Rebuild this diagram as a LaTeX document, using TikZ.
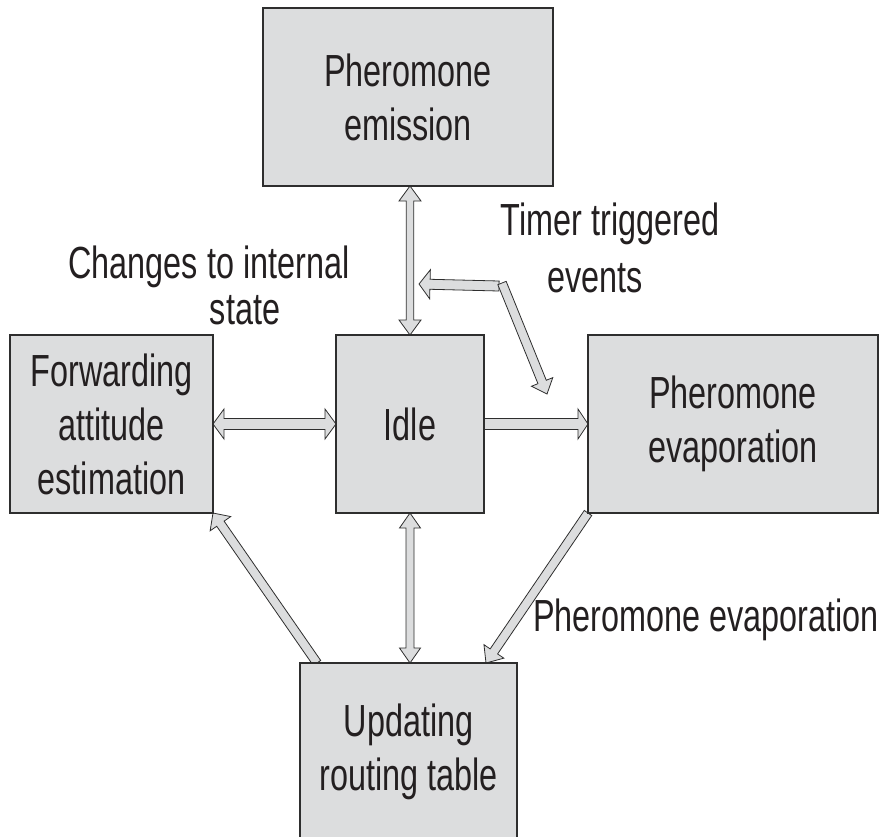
\documentclass[tikz,border=0pt]{standalone}
\usepackage{fontspec}
\setmainfont{Liberation Sans}[FakeStretch=0.72]
\usetikzlibrary{calc,backgrounds}
\definecolor{boxfill}{HTML}{DCDDDE}
\definecolor{edge}{HTML}{2E2E2E}
\definecolor{ink}{HTML}{231F20}
\tikzset{
  big/.style={font=\fontsize{45}{54}\selectfont, text=ink},
  stage/.style={big, draw=edge, line width=1.1pt, fill=boxfill, inner sep=0pt, outer sep=0pt, align=center},
  lbl/.style={big, inner sep=0pt, anchor=base},
  arrowbody/.style={fill=boxfill, draw=edge, line width=0.8pt, line join=miter},
}
% Hollow block arrow from #1 to #2: shaft width #3, head width #4, head length #5,
% #6 = 1 for one head, 2 for heads at both ends.
\newcommand\blockarrow[6]{%
  \path (#1); \pgfgetlastxy{\baXa}{\baYa}%
  \path (#2); \pgfgetlastxy{\baXb}{\baYb}%
  \pgfmathsetmacro\baAng{atan2(\baYb-\baYa,\baXb-\baXa)}%
  \pgfmathsetmacro\baLen{veclen(\baXb-\baXa,\baYb-\baYa)}%
  \pgfmathsetmacro\baW{(#3)/2}%
  \pgfmathsetmacro\baH{(#4)/2}%
  \pgfmathsetmacro\baK{#5}%
  \pgfmathsetmacro\baB{\baLen-\baK}%
  \begin{scope}[shift={(\baXa,\baYa)}, rotate=\baAng, x=1pt, y=1pt]
    \ifnum#6=1\relax
      \path[arrowbody] (0,-\baW) -- (\baB,-\baW) -- (\baB,-\baH) -- (\baLen,0)
        -- (\baB,\baH) -- (\baB,\baW) -- (0,\baW) -- cycle;
    \else
      \path[arrowbody] (0,0) -- (\baK,\baH) -- (\baK,\baW) -- (\baB,\baW) -- (\baB,\baH)
        -- (\baLen,0) -- (\baB,-\baH) -- (\baB,-\baW) -- (\baK,-\baW) -- (\baK,-\baH) -- cycle;
    \fi
  \end{scope}}

\begin{document}
\begin{tikzpicture}[x=1pt,y=-1pt]
\useasboundingbox (0,0) rectangle (880,836);

% states
\node[stage, minimum width=290pt, minimum height=178pt] (emis) at (408,97) {Pheromone\\emission};
\node[stage, minimum width=203pt, minimum height=178pt] (fwd) at (111.5,424) {Forwarding\\attitude\\estimation};
\node[stage, minimum width=148pt, minimum height=178pt] (idle) at (410,424) {Idle};
\node[stage, minimum width=290pt, minimum height=178pt] (evap) at (733,424) {Pheromone\\evaporation};
\node[stage, minimum width=217pt, minimum height=178pt] (upd) at (408.5,752) {Updating\\routing table};

% labels
\node[lbl] (chg1) at (209,278) {Changes to internal};
\node[lbl] (chg2) at (245,324) {state};
\node[lbl] (tim1) at (610,235) {Timer triggered};
\node[lbl] (tim2) at (595,292) {events};
\node[lbl, anchor=base west] (pev) at (533,631) {Pheromone evaporation};

% timer branch points
\coordinate (tj) at (499,286);
\coordinate (tl) at (419,284);
\coordinate (tjd) at (502,283);
\coordinate (tr) at (547,394);

% transitions
\begin{pgfonlayer}{background}
  \blockarrow{idle.north |- emis.south}{idle.north}{7.5}{22}{15}{2}
  \blockarrow{idle.south}{idle.south |- upd.north}{8}{21}{15}{2}
  \blockarrow{fwd.east}{idle.west}{11}{30}{11}{2}
  \blockarrow{idle.east}{evap.west}{11}{30}{10}{1}
  \blockarrow{$(upd.north west)+(17,0)$}{fwd.south east}{9}{25}{13}{1}
  \blockarrow{evap.south west}{$(upd.north east)+(-31,0)$}{9}{24}{14}{1}
  \blockarrow{tj}{tl}{10}{29}{11}{1}
  \blockarrow{tjd}{tr}{9}{23}{13}{1}
\end{pgfonlayer}
\end{tikzpicture}
\end{document}
